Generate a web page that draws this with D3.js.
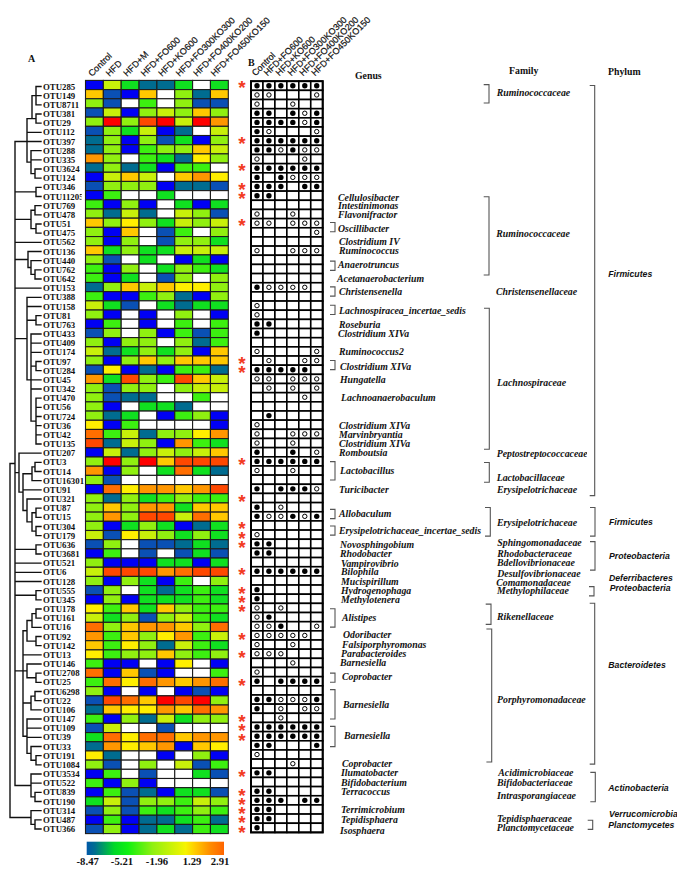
<!DOCTYPE html>
<html><head><meta charset="utf-8">
<script src="https://cdn.jsdelivr.net/npm/d3@7"></script>
<style>html,body{margin:0;padding:0;background:#fff}svg{display:block}</style>
</head><body><svg id="c" width="677" height="873"></svg>
<script>
const otus=["OTU285","OTU149","OTU8711","OTU381","OTU29","OTU112","OTU397","OTU288","OTU335","OTU3624","OTU124","OTU346","OTU11205","OTU769","OTU478","OTU51","OTU475","OTU562","OTU136","OTU440","OTU762","OTU642","OTU153","OTU388","OTU158","OTU81","OTU763","OTU433","OTU409","OTU174","OTU97","OTU284","OTU45","OTU342","OTU470","OTU56","OTU724","OTU36","OTU42","OTU135","OTU207","OTU3","OTU14","OTU16301","OTU91","OTU321","OTU87","OTU15","OTU304","OTU179","OTU636","OTU3681","OTU521","OTU6","OTU128","OTU555","OTU345","OTU178","OTU161","OTU16","OTU92","OTU142","OTU13","OTU146","OTU2708","OTU25","OTU6298","OTU22","OTU106","OTU147","OTU109","OTU39","OTU33","OTU191","OTU1084","OTU3534","OTU522","OTU839","OTU190","OTU314","OTU487","OTU366"];
const groupsA=["Control","HFD","HFD+M","HFD+FO600","HFD+KO600","HFD+FO300KO300","HFD+FO400KO200","HFD+FO450KO150"];
const groupsB=["Control","HFD+FO600","HFD+KO600","HFD+FO300KO300","HFD+FO400KO200","HFD+FO450KO150"];
// log abundance; null = not detected (white)
const heat=[
[-8.2,-1.4,-5,-6.6,-6.6,-5,null,-5],
[.8,-7.4,-8.2,.8,null,-2.8,-6.6,.8],
[-2.8,-7.4,null,-4,null,-2.8,-7.4,-7.4],
[-7.4,-1.4,-8.2,-2.8,-1.4,-2.8,.8,-2.8],
[-2.8,2.8,-2.8,2.4,2.8,-1.4,2.8,1.4],
[-7.4,-2.8,-5,-1.4,-8.2,-6.6,null,-1.4],
[-6.6,-2.8,-8.2,-2.8,-7.4,-5,-8.2,-2.8],
[-6.6,-2.8,-8.2,-4,-2.8,-2.8,.8,-1.4],
[1.4,-2.8,null,-4,-5,-6.6,.2,-2.8],
[-6.6,-2.8,-6.6,-5,-8.2,-4,-4,null],
[-8.2,-1.4,.8,-1.4,null,.8,1.4,.2],
[-7.4,-2.8,-2.8,-2.8,-8.2,-6.6,-6.6,-7.4],
[-8.2,-4,null,null,-5,null,null,null],
[-4,-8.2,-2.8,-8.2,null,-5,-8.2,-5],
[-2.8,-6.6,-1.4,-6.6,null,-1.4,-2.8,-7.4],
[.8,-2.8,.2,-2.8,-5,-1.4,-2.8,-1.4],
[-2.8,-8.2,.8,null,-7.4,-4,null,-2.8],
[-2.8,-8.2,-2.8,null,-7.4,-2.8,-2.8,-5],
[.8,-5,-2.8,-5,-5,-1.4,-1.4,-1.4],
[-2.8,-7.4,null,-5,null,-8.2,-5,-8.2],
[-4,-8.2,-2.8,null,-5,-2.8,-4,-5],
[-4,-8.2,-5,null,-7.4,-2.8,null,-2.8],
[-6.6,-2.8,.8,-1.4,.8,.2,.2,-2.8],
[-4,-8.2,-8.2,-4,-2.8,-6.6,-8.2,-2.8],
[-1.4,-5,-7.4,null,-5,-6.6,-5,-5],
[-2.8,-8.2,null,-8.2,null,-2.8,null,-8.2],
[-8.2,-4,null,-8.2,null,-4,null,-4],
[-7.4,-2.8,null,-2.8,-8.2,-4,-7.4,-4],
[-2.8,-8.2,-2.8,-2.8,null,-2.8,-6.6,-4],
[-1.4,-6.6,-5,-2.8,-5,-2.8,-8.2,.8],
[-2.8,-8.2,-2.8,.8,-2.8,.8,.8,.8],
[-7.4,.2,-8.2,-6.6,-8.2,-4,-4,-6.6],
[1.4,-5,2.4,-2.8,-4,2.4,.8,-1.4],
[-2.8,-7.4,-2.8,-2.8,null,-2.8,-1.4,-1.4],
[-2.8,-7.4,-6.6,-6.6,null,null,-4,null],
[-2.8,-8.2,null,-5,-5,-6.6,null,null],
[-2.8,-6.6,-5,null,-8.2,-4,-2.8,-8.2],
[.2,-8.2,-4,null,null,null,null,-8.2],
[2,-4,-1.4,-6.6,-2.8,-2.8,.2,1.4],
[2.4,-6.6,-1.4,-2.8,-8.2,1.4,-4,-5],
[-8.2,-1.4,-6.6,-2.8,-1.4,-2.8,-1.4,.8],
[-2.8,2.8,-2.8,2.8,.8,2.4,2.4,2.4],
[1.4,-8.2,-2.8,null,-5,2,-5,-6.6],
[-2.8,-7.4,null,null,null,null,null,null],
[-8.2,2,.2,1.4,1.4,.8,1.4,2.4],
[-2.8,-6.6,-2.8,-5,-4,-2.8,-4,-4],
[-2.8,.8,-2.8,1.4,1.4,-5,.8,.8],
[-2.8,1.4,-2.8,2.4,2.4,-1.4,2,.8],
[-2.8,-8.2,-5,-2.8,-5,-8.2,-6.6,-5],
[-1.4,-7.4,.2,-1.4,-2.8,-5,-2.8,-5],
[-7.4,-2.8,null,-7.4,-7.4,-6.6,-5,-6.6],
[-8.2,-4,null,-7.4,null,-7.4,-5,-7.4],
[-2.8,-8.2,-8.2,-8.2,-5,-5,-8.2,-5],
[-1.4,2.4,2.4,2.4,1.4,2,2.4,2.4],
[-2.8,-8.2,-2.8,-5,-8.2,-4,null,-2.8],
[-7.4,-2.8,null,-5,-6.6,-5,-4,-5],
[-8.2,-2.8,-8.2,-5,-5,-5,-4,-5],
[.2,-4,.8,-5,.8,-2.8,-4,-4],
[-1.4,-5,-2.8,-7.4,-2.8,-1.4,-4,-5],
[2,-2.8,.8,1.4,1.4,.8,-2.8,2],
[1.4,-4,.8,-2.8,.2,1.4,-4,-1.4],
[.8,-4,.2,-2.8,-6.6,-1.4,-4,-5],
[.2,-4,-2.8,-2.8,.8,-2.8,-4,-2.8],
[-4,-8.2,-8.2,null,-8.2,.2,null,-8.2],
[2,-8.2,.8,-7.4,-8.2,null,null,-4],
[-4,2,.2,2,1.4,.8,1.4,2],
[-2.8,-8.2,null,-8.2,null,-8.2,-7.4,-8.2],
[-7.4,2.4,2,.8,2.8,2.4,2.8,-2.8],
[-6.6,.8,.2,.2,1.4,.8,2,1.4],
[-4,-8.2,-2.8,-6.6,-1.4,-5,-2.8,-2.8],
[-7.4,-1.4,null,null,-7.4,null,null,null],
[-5,2,.2,2,2,.8,1.4,1.4],
[-6.6,1.4,.2,.8,1.4,-8.2,.8,.2],
[.2,-6.6,null,null,-8.2,null,-2.8,-8.2],
[-2.8,-7.4,null,-2.8,null,-1.4,-7.4,-4],
[-8.2,-4,null,-7.4,null,null,-5,-7.4],
[-4,-8.2,-2.8,-8.2,null,null,null,null],
[-8.2,-4,-7.4,-6.6,-8.2,-5,-5,-7.4],
[-5,-1.4,-7.4,-2.8,-2.8,-4,-1.4,-2.8],
[-7.4,-2.8,-7.4,-4,-5,-4,-2.8,-4],
[-8.2,-4,-8.2,-6.6,-6.6,-5,-4,-6.6],
[-7.4,-2.8,-8.2,-6.6,-5,-6.6,-4,-5]];
// panel B: 0 absent, 1 open circle, 2 filled circle
const presence=[
[2,2,2,2,2,2],[1,1,0,0,0,1],[1,0,0,1,0,0],[2,2,0,2,1,2],[2,2,2,2,1,2],[2,1,0,0,0,1],[2,2,2,2,2,2],[2,2,1,2,1,1],[1,0,0,0,1,0],[2,2,2,2,2,2],
[2,0,2,1,1,1],[2,2,2,0,2,2],[2,2,0,0,0,0],[0,0,0,0,0,0],[1,0,0,1,0,0],[1,1,0,1,1,1],[0,0,0,0,0,1],[0,0,0,0,0,0],[1,0,0,1,1,1],[0,0,0,0,0,0],
[0,0,0,0,0,0],[0,0,0,0,0,0],[2,1,1,1,1,0],[0,0,0,0,0,0],[1,0,0,0,0,0],[1,0,0,0,0,0],[2,2,0,0,0,0],[2,0,0,0,0,0],[0,0,0,0,0,0],[1,0,0,0,0,1],
[0,1,0,0,1,1],[2,2,2,2,2,0],[1,1,0,1,1,1],[0,1,0,1,0,1],[0,0,0,0,1,0],[0,0,0,0,0,0],[0,2,0,0,0,0],[1,0,0,0,0,0],[1,0,0,1,1,1],[1,0,0,1,0,0],
[2,0,0,2,0,1],[2,2,2,2,2,2],[1,0,0,1,0,0],[0,0,0,0,0,0],[2,0,2,2,2,1],[0,0,0,0,0,0],[2,0,1,0,0,0],[2,1,1,2,1,2],[0,0,0,0,0,0],[1,0,0,0,0,0],
[2,2,0,0,0,0],[2,2,0,0,0,0],[0,0,0,0,0,0],[2,2,2,2,2,2],[0,0,0,0,0,0],[2,0,0,0,0,0],[2,0,0,0,0,0],[1,0,1,0,0,0],[1,2,0,0,0,0],[1,1,2,0,0,1],
[1,1,1,1,1,0],[1,0,0,1,0,0],[1,1,1,0,0,0],[0,0,0,1,0,0],[1,0,0,0,0,0],[2,0,2,2,2,2],[0,0,0,0,0,0],[2,2,1,1,1,2],[2,0,1,0,1,1],[0,0,1,0,0,0],
[2,2,2,2,2,2],[2,2,2,2,2,2],[2,2,0,0,0,2],[1,0,0,0,0,0],[0,0,0,1,0,0],[2,2,0,0,0,0],[0,0,0,0,0,0],[2,2,0,0,0,0],[2,2,2,0,2,2],[2,2,0,0,0,0],
[2,2,0,0,0,0],[2,0,0,0,0,0]];
const starred=["OTU285","OTU397","OTU3624","OTU346","OTU11205","OTU51","OTU97","OTU284","OTU3","OTU321","OTU304","OTU179","OTU636","OTU6","OTU555","OTU345","OTU178","OTU92","OTU13","OTU25","OTU147","OTU109","OTU39","OTU3534","OTU839","OTU190","OTU314","OTU487","OTU366"];
// dendrogram: branch distance, children, optional child whose level carries the stem
const node=(dist,children,at)=>({dist,children,at});
const dendrogram=node(10,[
 node(15,[
  node(27,[node(32,[node(36,["OTU285","OTU149","OTU8711"]),node(36,["OTU381","OTU29"])],1),"OTU112","OTU397",node(31,["OTU288","OTU335",node(35,["OTU3624","OTU124"])])],2),
  node(36,["OTU346","OTU11205"]),
  node(31,[node(35,["OTU769","OTU478"]),node(36,["OTU51","OTU475"])]),
  "OTU562",
  node(28,["OTU136",node(31,["OTU440",node(35,["OTU762","OTU642"])])]),
  "OTU153",
  node(27,["OTU388","OTU158",node(36,["OTU81","OTU763"]),node(31,["OTU433","OTU409","OTU174",node(36,["OTU97","OTU284"]),"OTU45","OTU342",node(36,["OTU470","OTU56","OTU724","OTU36","OTU42","OTU135"])],4)]),
  node(19,["OTU207",node(23,[node(32,[node(35,["OTU3","OTU14"]),"OTU16301"]),"OTU91",node(27,["OTU321",node(32,[node(36,["OTU87","OTU15"]),node(36,["OTU304","OTU179"])])])])]),
  node(36,["OTU636","OTU3681"]),
  "OTU521","OTU6","OTU128",
  node(36,["OTU555","OTU345"]),
  node(23,[
   node(27,[node(32,[node(36,["OTU178","OTU161"]),"OTU16"]),node(36,["OTU92","OTU142"])]),
   "OTU13",
   node(27,["OTU146",node(36,["OTU2708","OTU25"])]),
   node(31,[node(35,["OTU6298","OTU22"]),"OTU106"]),
   node(27,["OTU147","OTU109","OTU39",node(31,["OTU33",node(36,["OTU191","OTU1084"])])])
  ],2),
  node(31,["OTU3534","OTU522",node(35,["OTU839","OTU190"])])
 ]),
 node(31,["OTU314",node(35,["OTU487","OTU366"])])
]);
const genusNames=["Cellulosibacter","Intestinimonas","Flavonifractor","Oscillibacter","Clostridium IV","Ruminococcus","Anaerotruncus","Acetanaerobacterium","Christensenella","Lachnospiracea_incertae_sedis","Roseburia","Clostridium XIVa","Ruminococcus2","Clostridium XIVa","Hungatella","Lachnoanaerobaculum","Clostridium XIVa","Marvinbryantia","Clostridium XIVa","Romboutsia","Lactobacillus","Turicibacter","Allobaculum","Erysipelotrichaceae_incertae_sedis","Novosphingobium","Rhodobacter","Vampirovibrio","Bilophila","Mucispirillum","Hydrogenophaga","Methylotenera","Alistipes","Odoribacter","Falsiporphyromonas","Parabacteroides","Barnesiella","Coprobacter","Barnesiella","Barnesiella","Coprobacter","Ilumatobacter","Bifidobacterium","Terracoccus","Terrimicrobium","Tepidisphaera","Isosphaera"];
const genusX=[338,338,338,338,339,339,338,337,339,339,339,338,339,340,340,341,339,339,339,339,340,339,339,339,340,340,341,341,341,341,341,342,343,342,341,340,342,343,344,342,341,341,341,341,341,340];
const genusY=[197.3,205.7,214.7,229,242,251,265,278.7,291.3,310.7,324.7,334,351.7,367,380,398,425.3,435,443.3,453,471,489.7,513.3,530.7,544.3,553.7,563.3,572,582,590.3,599.3,618,635,645,654,663,676.7,704.3,735.3,764,772.3,782.7,791.7,809.3,819.3,830.3];
const familyNames=["Ruminococcaceae","Ruminococcaceae","Christensenellaceae","Lachnospiraceae","Peptostreptococcaceae","Lactobacillaceae","Erysipelotrichaceae","Erysipelotrichaceae","Sphingomonadaceae","Rhodobacteraceae","Bdellovibrionaceae","Desulfovibrionaceae","Comamonadaceae","Methylophilaceae","Rikenellaceae","Porphyromonadaceae","Acidimicrobiaceae","Bifidobacteriaceae","Intrasporangiaceae","Tepidisphaeraceae","Planctomycetaceae"];
const familyX=[496.7,496.3,496,497,496.7,496.7,497,497,497.3,497.3,497,497.3,496.3,497,497,497,498.3,497,497,497,496.7];
const familyY=[92.3,234,291.7,383,453.3,477.7,489.7,522.3,542.7,553.3,562.7,573.7,582.7,591,616.7,699.7,773,782.7,796,818.7,827.7];
const phylumNames=["Firmicutes","Firmicutes","Proteobacteria","Deferribacteres","Proteobacteria","Bacteroidetes","Actinobacteria","Verrucomicrobia","Planctomycetes"];
const phylumX=[608.3,609,609,609,609.7,608.3,608.3,609,608.3];
const phylumY=[274,522.3,556.3,578,588.3,665,787.7,814.3,825.3];
// brackets span rows (by index in otus)
const genusBrackets=[[15,16],[19.2,20.2],[22,23],[24,25],[30,31],[41,43],[46.2,47.2],[48,49],[57,59],[64,65],[65.8,69],[69.8,72]];
const familyBrackets=[[0,2,489],[12.2,20.7,489],[24.33,39.66,489.3],[41.1,43.25,489.3],[46,49.1,490.3],[56.5,58.7,491],[59.2,73.67,491.7]];
const phylumBrackets=[[0.1,44.7,594.7],[46,49.1,595],[49.7,52.8,595],[54.6,55.6,594],[56.4,73.9,594.7],[74.8,78,595.3],[80,81,592.7]];
const legendTicks=[-8.47,-5.21,-1.96,1.29,2.91];
const legendTickX=[87.7,122,157,192,220];
const levels=[-8.2,-7.4,-6.6,-5,-4,-2.8,-1.4,.2,.8,1.4,2,2.4,2.8];
const levelColors=["#0000f4","#0a50b4","#006c90","#10e020","#3cf010","#90f010","#c8f00a","#ffee00","#ffc800","#ff9600","#ff6e00","#ff4800","#ff0000"];
const legendOffsets=[0,.06,.2,.3,.48,.72,.78,.9,1];
const legendColors=["#0058a8","#006e90","#00d828","#10f010","#90f010","#f6f400","#ffd000","#ff8c00","#ff6400"];

const svg=d3.select("#c");
const serif='"Liberation Serif",serif',sans='"Liberation Sans",sans-serif';
const color=d3.scaleLinear().domain(levels).range(levelColors);
const rows=d3.range(otus.length);
const xHeat=d3.scaleBand().domain(d3.range(8)).range([85.5,228.3]);
const yHeat=d3.scaleBand().domain(rows).range([80.4,833.6]);
const xPres=d3.scaleBand().domain(d3.range(6)).range([251,322.7]);
const yPres=d3.scaleBand().domain(rows).range([81.2,832.4]);
const yLabel=d3.scalePoint().domain(rows).range([86.5,829]);
const rowPos=d3.scaleLinear().domain([0,81]).range([84.6,829.4]);
const xDist=d3.scaleLinear().domain([10,41]).range([10,41]);
const xLabA=d3.scalePoint().domain(groupsA).range([92,214.5]);
const xLabB=d3.scalePoint().domain(d3.range(6)).range([255.5,315]);

const defs=svg.append("defs");
defs.append("clipPath").attr("id","otuClip").append("rect").attr("x",0).attr("y",70).attr("width",81.7).attr("height",780);
defs.append("clipPath").attr("id","famClip").append("rect").attr("x",480).attr("y",60).attr("width",107).attr("height",790);
const grad=defs.append("linearGradient").attr("id","lg");
grad.selectAll("stop").data(legendOffsets).join("stop").attr("offset",d=>d).attr("stop-color",(d,i)=>legendColors[i]);

// dendrogram
const root=d3.hierarchy(dendrogram,d=>typeof d==="string"?null:d.children);
root.eachAfter(n=>{
 if(!n.children){n.py=yLabel(otus.indexOf(n.data));n.px=xDist(41);return;}
 n.px=xDist(n.data.dist);
 const c=n.children;
 n.py=n.data.at!==undefined?c[n.data.at].py:(c[0].py+c[c.length-1].py)/2;
});
const dPath=[];
root.each(n=>{
 if(n.children){const ys=n.children.map(c=>c.py);dPath.push(`M${n.px},${d3.min(ys)}V${d3.max(ys)}`);
  n.children.forEach(c=>dPath.push(`M${n.px},${c.py}H${c.px}`));}
});
svg.append("path").attr("d",dPath.join("")).attr("fill","none").attr("stroke","#111").attr("stroke-width",1.4).attr("stroke-linecap","square");

// row labels (the reference cuts the one long label at the heat map's edge)
svg.append("g").selectAll("text").data(otus).join("text")
 .attr("x",43).attr("y",(d,i)=>yLabel(i)).attr("dy",".35em")
 .attr("clip-path",d=>d==="OTU11205"?"url(#otuClip)":null)
 .attr("font-family",serif).attr("font-weight","bold").attr("font-size",8.8).attr("fill","#111").text(d=>d);

// heat map
const hCells=svg.append("g").attr("stroke","#1c1c1c").attr("stroke-width",1.1);
heat.forEach((r,i)=>{
 hCells.selectAll(null).data(r).join("rect")
  .attr("x",(d,j)=>xHeat(j)).attr("y",yHeat(i)).attr("width",xHeat.bandwidth()).attr("height",yHeat.bandwidth())
  .attr("fill",d=>d===null?"#ffffff":color(d));
});

// column headers
const headA=(sel,xf,y0)=>sel.attr("transform",(d,i)=>`translate(${xf(d,i)},${y0}) rotate(-45)`)
 .attr("font-family",sans).attr("font-size",9).attr("fill","#111").attr("stroke","#111").attr("stroke-width",.2).text(d=>d);
headA(svg.append("g").selectAll("text").data(groupsA).join("text"),d=>xLabA(d),77);
headA(svg.append("g").selectAll("text").data(groupsB).join("text"),(d,i)=>xLabB(i),76.5);

// stars
svg.append("g").selectAll("text").data(starred).join("text")
 .attr("x",242).attr("y",d=>yHeat(otus.indexOf(d))+yHeat.bandwidth()/2+9.5).attr("text-anchor","middle")
 .attr("font-family",sans).attr("font-weight","bold").attr("font-size",19).attr("fill","#f23a22").text("*");

// presence grid
const pG=svg.append("g");
presence.forEach((r,i)=>{
 pG.selectAll(null).data(r).join("rect")
  .attr("x",(d,j)=>xPres(j)).attr("y",yPres(i)).attr("width",xPres.bandwidth()).attr("height",yPres.bandwidth())
  .attr("fill","#fff").attr("stroke","#000").attr("stroke-width",1.6);
});
pG.append("rect").attr("x",xPres.range()[0]).attr("y",yPres.range()[0]).attr("width",xPres.range()[1]-xPres.range()[0]).attr("height",yPres.range()[1]-yPres.range()[0]).attr("fill","none").attr("stroke","#000").attr("stroke-width",2);
presence.forEach((r,i)=>{
 pG.selectAll(null).data(r.map((v,j)=>({v,j})).filter(d=>d.v>0)).join("circle")
  .attr("cx",d=>xPres(d.j)+xPres.bandwidth()/2).attr("cy",yPres(i)+yPres.bandwidth()/2)
  .attr("r",d=>d.v===2?2.7:2.2).attr("fill",d=>d.v===2?"#000":"#fff").attr("stroke","#000").attr("stroke-width",d=>d.v===2?0:1);
});

// panel letters and titles
const titles=[["A",28,62],["B",248,66],["Genus",355,79],["Family",509,74],["Phylum",608,75]];
svg.append("g").selectAll("text").data(titles).join("text").attr("x",d=>d[1]).attr("y",d=>d[2])
 .attr("font-family",serif).attr("font-weight","bold").attr("font-size",(d,i)=>i<2?10:9.8).attr("fill","#111").text(d=>d[0]);

// taxonomy labels
const italic=(names,xs,ys,font,size,parent)=>(parent||svg).append("g").selectAll("text").data(names).join("text")
 .attr("x",(d,i)=>xs[i]).attr("y",(d,i)=>ys[i]).attr("dy",".35em")
 .attr("font-family",font).attr("font-weight","bold").attr("font-style","italic").attr("font-size",size).attr("fill","#111").text(d=>d);
italic(genusNames,genusX,genusY,serif,9.8);
italic(familyNames,familyX,familyY,serif,9.8,svg.append("g").attr("clip-path","url(#famClip)"));
italic(phylumNames,phylumX,phylumY,sans,8.7);

// brackets
const bracket=(data,xf,w,col)=>svg.append("path").attr("fill","none").attr("stroke",col).attr("stroke-width",1.1)
 .attr("d",data.map(b=>`M${xf(b)-w},${rowPos(b[0])}H${xf(b)}V${rowPos(b[1])}H${xf(b)-w}`).join(""));
bracket(genusBrackets,()=>335,5,"#555");
bracket(familyBrackets,b=>b[2],5.3,"#555");
bracket(phylumBrackets,b=>b[2],5,"#555");

// legend
svg.append("rect").attr("x",86.7).attr("y",841.7).attr("width",137.3).attr("height",13.3).attr("fill","url(#lg)");
svg.append("g").selectAll("text").data(legendTicks).join("text")
 .attr("x",(d,i)=>legendTickX[i]).attr("y",865).attr("text-anchor","middle")
 .attr("font-family",serif).attr("font-weight","bold").attr("font-size",10.7).attr("fill","#111").text(d=>d.toFixed(2));
</script></body></html>
